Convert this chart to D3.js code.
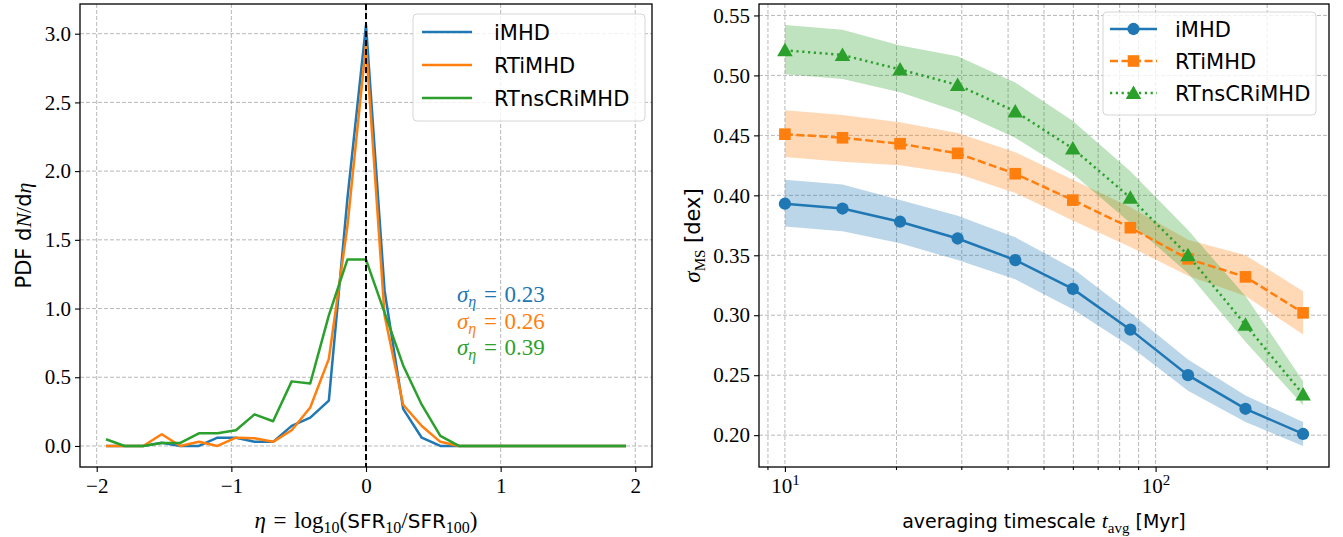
<!DOCTYPE html>
<html>
<head>
<meta charset="utf-8">
<script src="https://cdn.jsdelivr.net/npm/d3@7"></script>
<style>
  body { margin: 0; background: #fff; }
  svg { display: block; }
  .tick text { font-family: "Liberation Serif", serif; font-size: 21px; fill: #000; }
  .sans { font-family: "DejaVu Sans", sans-serif; }
  .serif { font-family: "Liberation Serif", serif; }
</style>
</head>
<body>
<div id="chart"></div>
<script>
// left panel: PDF of eta, bin centres
var eta = [-1.931, -1.793, -1.655, -1.517, -1.379, -1.241, -1.103, -0.966, -0.828, -0.690,
           -0.552, -0.414, -0.276, -0.138, 0.000, 0.138, 0.276, 0.414, 0.552, 0.690,
           0.828, 0.966, 1.103, 1.241, 1.379, 1.517, 1.655, 1.793, 1.931];
var pdfIMHD = [0, 0, 0, 0.024, 0, 0, 0.06, 0.06, 0.03, 0.03,
               0.146, 0.206, 0.33, 1.8, 3.063, 1.13, 0.27, 0.06, 0, 0,
               0, 0, 0, 0, 0, 0, 0, 0, 0];
var pdfRTiMHD = [0, 0, 0, 0.085, 0, 0.03, 0, 0.06, 0.056, 0.03,
                 0.114, 0.28, 0.634, 1.6, 2.918, 0.95, 0.30, 0.145, 0.03, 0,
                 0, 0, 0, 0, 0, 0, 0, 0, 0];
var pdfRTnsCRiMHD = [0.049, 0, 0, 0.022, 0.022, 0.092, 0.092, 0.114, 0.23, 0.18,
                     0.47, 0.455, 0.95, 1.356, 1.356, 0.97, 0.586, 0.30, 0.073, 0,
                     0, 0, 0, 0, 0, 0, 0, 0, 0];
var sigmaEta = ["0.23", "0.26", "0.39"];

// right panel: scatter vs averaging timescale
var tAvg = [10, 14.30, 20.45, 29.24, 41.82, 59.80, 85.50, 122.3, 174.8, 250];
var msIMHD   = [0.393, 0.389, 0.378, 0.364, 0.346, 0.322, 0.288, 0.250, 0.222, 0.201];
var msIMHDlo = [0.374, 0.370, 0.360, 0.346, 0.330, 0.305, 0.274, 0.237, 0.211, 0.191];
var msIMHDhi = [0.413, 0.409, 0.396, 0.383, 0.365, 0.339, 0.302, 0.263, 0.233, 0.211];
var msRT   = [0.451, 0.448, 0.443, 0.435, 0.418, 0.396, 0.373, 0.347, 0.332, 0.302];
var msRTlo = [0.432, 0.428, 0.425, 0.418, 0.402, 0.379, 0.357, 0.333, 0.316, 0.284];
var msRThi = [0.471, 0.467, 0.461, 0.452, 0.436, 0.413, 0.390, 0.363, 0.350, 0.320];
var msCR   = [0.521, 0.517, 0.505, 0.492, 0.470, 0.439, 0.398, 0.350, 0.292, 0.234];
var msCRlo = [0.501, 0.497, 0.486, 0.470, 0.448, 0.418, 0.377, 0.335, 0.278, 0.225];
var msCRhi = [0.542, 0.538, 0.525, 0.516, 0.494, 0.462, 0.420, 0.371, 0.316, 0.245];

var names = ["iMHD", "RTiMHD", "RTnsCRiMHD"];
var colors = ["#1f77b4", "#ff7f0e", "#2ca02c"];
var leftYTicks = [0, 0.5, 1.0, 1.5, 2.0, 2.5, 3.0];
var leftXTicks = [-2, -1, 0, 1, 2];
var rightYTicks = [0.20, 0.25, 0.30, 0.35, 0.40, 0.45, 0.50, 0.55];

var width = 1343, height = 537;
var plotTop = 4, plotBottom = 467;
var fs = 21;
var lw = 2.5;

var svg = d3.select('#chart').append('svg')
  .attr('width', width)
  .attr('height', height);

function pad(ext, f) {
  var s = ext[1] - ext[0];
  return [ext[0] - f * s, ext[1] + f * s];
}

function minus(v) { return String(v).replace('-', '\u2212'); }

function grid(g, xs, ys, x, y, x0, x1) {
  g.selectAll('.gx').data(xs).enter().append('line')
    .attr('x1', function(d) { return x(d); }).attr('x2', function(d) { return x(d); })
    .attr('y1', plotTop).attr('y2', plotBottom)
    .attr('stroke', '#b0b0b0').attr('stroke-width', 0.9).attr('stroke-dasharray', '4,2');
  g.selectAll('.gy').data(ys).enter().append('line')
    .attr('x1', x0).attr('x2', x1)
    .attr('y1', function(d) { return y(d); }).attr('y2', function(d) { return y(d); })
    .attr('stroke', '#b0b0b0').attr('stroke-width', 0.9).attr('stroke-dasharray', '4,2');
}

function frame(x0, x1) {
  svg.append('rect')
    .attr('x', x0).attr('y', plotTop)
    .attr('width', x1 - x0).attr('height', plotBottom - plotTop)
    .attr('fill', 'none').attr('stroke', '#000').attr('stroke-width', 1.3);
}

/* ---------- left panel ---------- */
(function leftPanel() {
  var x0 = 80, x1 = 652;
  var x = d3.scaleLinear().domain(pad(d3.extent(eta), 0.05)).range([x0, x1]);
  var allPdf = pdfIMHD.concat(pdfRTiMHD, pdfRTnsCRiMHD);
  var y = d3.scaleLinear().domain(pad([0, d3.max(allPdf)], 0.05)).range([plotBottom, plotTop]);

  var g = svg.append('g');
  grid(g, leftXTicks, leftYTicks, x, y, x0, x1);

  var clipId = 'clipL';
  svg.append('clipPath').attr('id', clipId).append('rect')
    .attr('x', x0).attr('y', plotTop).attr('width', x1 - x0).attr('height', plotBottom - plotTop);

  var line = d3.line()
    .x(function(d) { return x(d[0]); })
    .y(function(d) { return y(d[1]); });

  [pdfIMHD, pdfRTiMHD, pdfRTnsCRiMHD].forEach(function(series, i) {
    g.append('path')
      .datum(d3.zip(eta, series))
      .attr('clip-path', 'url(#' + clipId + ')')
      .attr('fill', 'none')
      .attr('stroke', colors[i])
      .attr('stroke-width', lw)
      .attr('stroke-linejoin', 'round')
      .attr('d', line);
  });

  // vertical line at zero
  g.append('line')
    .attr('x1', x(0)).attr('x2', x(0)).attr('y1', plotTop).attr('y2', plotBottom)
    .attr('stroke', '#000').attr('stroke-width', 2).attr('stroke-dasharray', '6,3');

  // axes
  svg.append('g')
    .attr('transform', 'translate(0,' + plotBottom + ')')
    .call(d3.axisBottom(x).tickValues(leftXTicks).tickSize(5).tickPadding(6)
      .tickFormat(function(d) { return minus(d); }))
    .call(function(a) { a.select('.domain').remove(); a.selectAll('line').attr('stroke-width', 1.1); });
  svg.append('g')
    .attr('transform', 'translate(' + x0 + ',0)')
    .call(d3.axisLeft(y).tickValues(leftYTicks).tickSize(5).tickPadding(4)
      .tickFormat(d3.format('.1f')))
    .call(function(a) { a.select('.domain').remove(); a.selectAll('line').attr('stroke-width', 1.1); });

  frame(x0, x1);

  // sigma annotations
  sigmaEta.forEach(function(s, i) {
    var t = svg.append('text').attr('class', 'serif')
      .attr('x', 457).attr('y', 302 + i * 26.5)
      .attr('font-size', 23).attr('fill', colors[i]);
    t.append('tspan').attr('font-style', 'italic').text('\u03c3');
    t.append('tspan').attr('font-style', 'italic').attr('font-size', 16).attr('dy', 5).text('\u03b7');
    t.append('tspan').attr('dy', -5).text('\u2004=\u2004' + s);
  });

  // legend
  var lg = svg.append('g').attr('transform', 'translate(413,14)');
  lg.append('rect').attr('width', 232).attr('height', 107).attr('rx', 4)
    .attr('fill', '#fff').attr('fill-opacity', 0.8)
    .attr('stroke', '#d6d6d6').attr('stroke-width', 1);
  names.forEach(function(n, i) {
    var cy = 18 + i * 33;
    lg.append('line').attr('x1', 9).attr('x2', 59).attr('y1', cy).attr('y2', cy)
      .attr('stroke', colors[i]).attr('stroke-width', lw);
    lg.append('text').attr('class', 'sans').attr('x', 81).attr('y', cy + 7.5)
      .attr('font-size', fs).text(n);
  });

  // labels
  var xl = svg.append('text').attr('class', 'serif')
    .attr('x', x(0)).attr('y', 528).attr('text-anchor', 'middle').attr('font-size', 23);
  xl.append('tspan').attr('font-style', 'italic').text('\u03b7');
  xl.append('tspan').text('\u2004=\u2004log');
  xl.append('tspan').attr('font-size', 16).attr('dy', 5).text('10');
  xl.append('tspan').attr('dy', -5).text('(');
  xl.append('tspan').attr('class', 'sans').attr('font-size', 20).text('SFR');
  xl.append('tspan').attr('font-size', 16).attr('dy', 5).text('10');
  xl.append('tspan').attr('dy', -5).text('/');
  xl.append('tspan').attr('class', 'sans').attr('font-size', 20).text('SFR');
  xl.append('tspan').attr('font-size', 16).attr('dy', 5).text('100');
  xl.append('tspan').attr('dy', -5).text(')');

  var yl = svg.append('text').attr('class', 'sans')
    .attr('transform', 'translate(31,' + ((plotTop + plotBottom) / 2) + ') rotate(-90)')
    .attr('text-anchor', 'middle').attr('font-size', fs);
  yl.append('tspan').text('PDF d');
  yl.append('tspan').attr('class', 'serif').attr('font-style', 'italic').attr('font-size', 22).text('N');
  yl.append('tspan').attr('class', 'serif').attr('font-size', 22).text('/');
  yl.append('tspan').text('d');
  yl.append('tspan').attr('class', 'serif').attr('font-style', 'italic').attr('font-size', 22).text('\u03b7');
})();

/* ---------- right panel ---------- */
(function rightPanel() {
  var x0 = 759, x1 = 1329;
  var lx = d3.extent(tAvg).map(Math.log10);
  var x = d3.scaleLog().domain(pad(lx, 0.05).map(function(v) { return Math.pow(10, v); })).range([x0, x1]);
  var allVals = msIMHDlo.concat(msIMHDhi, msRTlo, msRThi, msCRlo, msCRhi);
  var y = d3.scaleLinear().domain(pad(d3.extent(allVals), 0.05)).range([plotBottom, plotTop]);

  var minorTicks = x.ticks();
  var majorTicks = [10, 100];

  var g = svg.append('g');
  grid(g, minorTicks, rightYTicks, x, y, x0, x1);

  var series = [
    {mid: msIMHD, lo: msIMHDlo, hi: msIMHDhi, dash: null, shape: d3.symbolCircle, size: 118},
    {mid: msRT, lo: msRTlo, hi: msRThi, dash: '8,3.5', shape: d3.symbolSquare, size: 135},
    {mid: msCR, lo: msCRlo, hi: msCRhi, dash: '2.2,3.6', shape: d3.symbolTriangle, size: 105}
  ];

  var area = d3.area()
    .x(function(d) { return x(d[0]); })
    .y0(function(d) { return y(d[1]); })
    .y1(function(d) { return y(d[2]); });
  var line = d3.line()
    .x(function(d) { return x(d[0]); })
    .y(function(d) { return y(d[1]); });

  series.forEach(function(s, i) {
    g.append('path')
      .datum(d3.zip(tAvg, s.lo, s.hi))
      .attr('fill', colors[i]).attr('fill-opacity', 0.3)
      .attr('d', area);
  });
  series.forEach(function(s, i) {
    g.append('path')
      .datum(d3.zip(tAvg, s.mid))
      .attr('fill', 'none')
      .attr('stroke', colors[i])
      .attr('stroke-width', lw)
      .attr('stroke-dasharray', s.dash)
      .attr('d', line);
    g.selectAll('.m' + i)
      .data(d3.zip(tAvg, s.mid))
      .enter().append('path')
      .attr('transform', function(d) {
        var dy = s.shape === d3.symbolTriangle ? 1.5 : 0;
        return 'translate(' + x(d[0]) + ',' + (y(d[1]) + dy) + ')';
      })
      .attr('d', d3.symbol().type(s.shape).size(s.size))
      .attr('fill', colors[i]);
  });

  // axes
  var xb = svg.append('g').attr('transform', 'translate(0,' + plotBottom + ')');
  xb.selectAll('.minor').data(minorTicks.filter(function(d) { return majorTicks.indexOf(d) < 0; }))
    .enter().append('line')
    .attr('x1', function(d) { return x(d); }).attr('x2', function(d) { return x(d); })
    .attr('y1', 0).attr('y2', 3).attr('stroke', '#000').attr('stroke-width', 0.8);
  xb.call(d3.axisBottom(x).tickValues(majorTicks).tickSize(5).tickPadding(6).tickFormat(''))
    .call(function(a) { a.select('.domain').remove(); a.selectAll('line').attr('stroke-width', 1.1); });
  xb.selectAll('.tick').each(function(d) {
    var t = d3.select(this).append('text').attr('y', 26).attr('text-anchor', 'middle')
      .attr('class', 'serif').attr('font-size', fs).attr('fill', '#000');
    t.append('tspan').text('10');
    t.append('tspan').attr('font-size', 15).attr('dy', -8).text(Math.round(Math.log10(d)));
  });

  svg.append('g')
    .attr('transform', 'translate(' + x0 + ',0)')
    .call(d3.axisLeft(y).tickValues(rightYTicks).tickSize(5).tickPadding(4)
      .tickFormat(d3.format('.2f')))
    .call(function(a) { a.select('.domain').remove(); a.selectAll('line').attr('stroke-width', 1.1); });

  frame(x0, x1);

  // legend
  var lg = svg.append('g').attr('transform', 'translate(1103,12)');
  lg.append('rect').attr('width', 213).attr('height', 103).attr('rx', 4)
    .attr('fill', '#fff').attr('fill-opacity', 0.8)
    .attr('stroke', '#d6d6d6').attr('stroke-width', 1);
  series.forEach(function(s, i) {
    var cy = 17 + i * 32;
    lg.append('line').attr('x1', 7).attr('x2', 54).attr('y1', cy).attr('y2', cy)
      .attr('stroke', colors[i]).attr('stroke-width', lw).attr('stroke-dasharray', s.dash);
    lg.append('path')
      .attr('transform', 'translate(30.5,' + (cy + (s.shape === d3.symbolTriangle ? 1.5 : 0)) + ')')
      .attr('d', d3.symbol().type(s.shape).size(s.size))
      .attr('fill', colors[i]);
    lg.append('text').attr('class', 'sans').attr('x', 72).attr('y', cy + 7.5)
      .attr('font-size', fs).text(names[i]);
  });

  // labels
  var xl = svg.append('text').attr('class', 'sans')
    .attr('x', (x0 + x1) / 2).attr('y', 528).attr('text-anchor', 'middle').attr('font-size', 19);
  xl.append('tspan').text('averaging timescale ');
  xl.append('tspan').attr('class', 'serif').attr('font-style', 'italic').attr('font-size', 22).text('t');
  xl.append('tspan').attr('class', 'serif').attr('font-size', 15).attr('dy', 5).text('avg');
  xl.append('tspan').attr('dy', -5).text(' [Myr]');

  var yl = svg.append('text').attr('class', 'sans')
    .attr('transform', 'translate(700,' + ((plotTop + plotBottom) / 2) + ') rotate(-90)')
    .attr('text-anchor', 'middle').attr('font-size', fs);
  yl.append('tspan').attr('class', 'serif').attr('font-style', 'italic').attr('font-size', 23).text('\u03c3');
  yl.append('tspan').attr('class', 'serif').attr('font-size', 15).attr('dy', 5).text('MS');
  yl.append('tspan').attr('dy', -5).text(' [dex]');
})();
</script>
</body>
</html>
